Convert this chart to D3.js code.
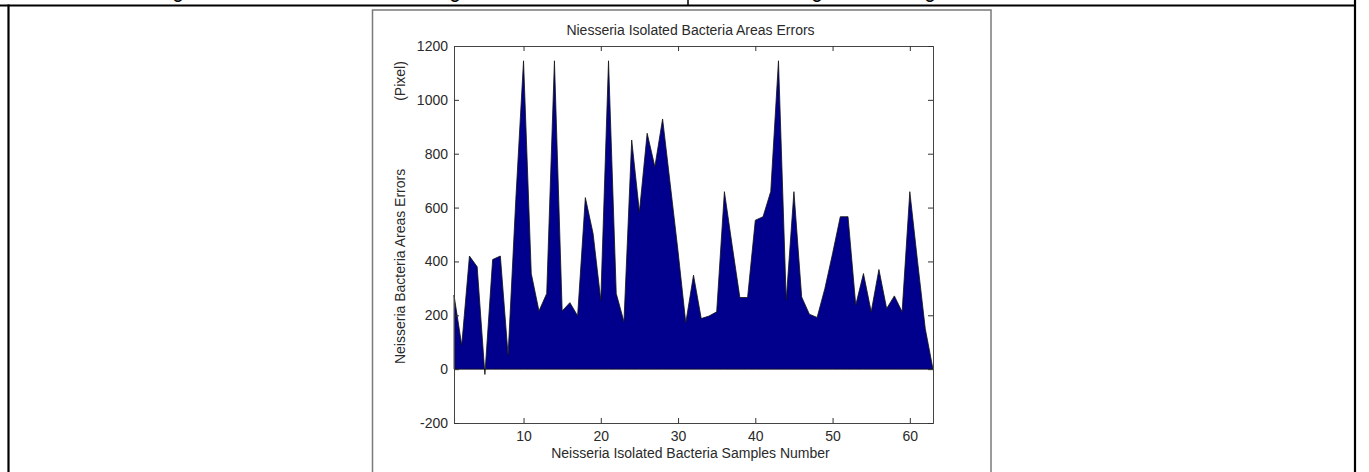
<!DOCTYPE html>
<html>
<head>
<meta charset="utf-8">
<script src="https://cdn.jsdelivr.net/npm/d3@7"></script>
<style>
    body { margin: 0; background: #fff; }
    #chart-area { width: 1369px; height: 472px; }
    .axis text { font-family: Arial, "Liberation Sans", sans-serif; font-size: 14px; fill: #2a2a2a; }
    .label { font-family: Arial, "Liberation Sans", sans-serif; font-size: 14px; fill: #2a2a2a; }
</style>
</head>
<body>
<div id="chart-area"></div>
<script>

// area errors per sample (pixel)
let errorValues = [275, 89, 420, 380, -20, 407, 420, 52, 630, 1145,
    355, 216, 281, 1145, 216, 247, 198, 637, 504, 256,
    1145, 281, 176, 851, 584, 876, 752, 929, 684, 437,
    172, 349, 188, 197, 213, 659, 460, 266, 266, 553,
    566, 660, 1145, 256, 659, 268, 204, 192, 299, 429,
    566, 566, 238, 355, 213, 370, 225, 272, 213, 659,
    400, 150, 0];

let xTicks = [10, 20, 30, 40, 50, 60];
let yTicks = [-200, 0, 200, 400, 600, 800, 1000, 1200];

let chartTitle = "Niesseria Isolated Bacteria Areas Errors";
let xLabel = "Neisseria Isolated Bacteria Samples Number";
let yLabel = "Neisseria Bacteria Areas Errors";
let yUnit = "(Pixel)";


class AreaErrorsViz {

    constructor(_parentElement, _data) {
        this.parentElement = _parentElement;
        this.data = _data;

        this.initVis();
    }

    initVis() {
        let vis = this;

        vis.totalWidth = 1369;
        vis.totalHeight = 472;

        // plot box inside the matlab figure
        vis.margin = { top: 46, left: 454 };
        vis.width = 479;
        vis.height = 377;

        vis.root = d3.select("#" + vis.parentElement).append("svg")
            .attr("width", vis.totalWidth)
            .attr("height", vis.totalHeight);

        // document table lines around the figure
        vis.root.append("line")
            .attr("x1", 0).attr("x2", 1356)
            .attr("y1", 5.5).attr("y2", 5.5)
            .attr("stroke", "#000").attr("stroke-width", 2.2);
        vis.root.append("line")
            .attr("x1", 8.5).attr("x2", 8.5)
            .attr("y1", 4.5).attr("y2", 472)
            .attr("stroke", "#000").attr("stroke-width", 2.2);
        vis.root.append("line")
            .attr("x1", 1355).attr("x2", 1355)
            .attr("y1", 0).attr("y2", 472)
            .attr("stroke", "#000").attr("stroke-width", 2.2);
        vis.root.append("line")
            .attr("x1", 688).attr("x2", 688)
            .attr("y1", 0).attr("y2", 5)
            .attr("stroke", "#000").attr("stroke-width", 1.5);

        // header row of the table is cut off, only the descenders stay visible
        [178, 455, 817, 930].forEach(x => {
            vis.root.append("text")
                .attr("x", x).attr("y", -1)
                .attr("text-anchor", "middle")
                .style("font-family", "Calibri, Carlito, 'Liberation Sans', sans-serif")
                .style("font-weight", "bold")
                .style("font-size", "18px")
                .text("g");
        });

        // figure frame
        vis.root.append("rect")
            .attr("x", 372.5).attr("y", 10)
            .attr("width", 618.5).attr("height", 470)
            .attr("fill", "none")
            .attr("stroke", "#7a7a7a").attr("stroke-width", 1.5);

        vis.svg = vis.root.append("g")
            .attr("transform", "translate(" + vis.margin.left + "," + vis.margin.top + ")");

        // Scales and axes
        vis.x = d3.scaleLinear()
            .domain([1, errorValues.length])
            .range([0, vis.width]);

        vis.y = d3.scaleLinear()
            .domain([-200, 1200])
            .range([vis.height, 0]);

        let plain = d => String(d);

        vis.xAxis = d3.axisBottom(vis.x).tickValues(xTicks).tickSize(-5).tickPadding(8).tickFormat(plain);
        vis.yAxis = d3.axisLeft(vis.y).tickValues(yTicks).tickSize(-5).tickPadding(6).tickFormat(plain);
        vis.xAxisTop = d3.axisTop(vis.x).tickValues(xTicks).tickSize(-5).tickFormat("");
        vis.yAxisRight = d3.axisRight(vis.y).tickValues(yTicks).tickSize(-5).tickFormat("");

        vis.area = d3.area()
            .x((d, i) => vis.x(i + 1))
            .y0(vis.y(0))
            .y1(d => vis.y(d));

        vis.wrangleData();
    }

    wrangleData() {
        let vis = this;

        vis.displayData = vis.data;

        vis.updateVis();
    }

    updateVis() {
        let vis = this;

        // the area patch, black edge like matlab
        vis.svg.append("path")
            .datum(vis.displayData)
            .attr("class", "area")
            .attr("d", vis.area)
            .attr("fill", "#00008c")
            .attr("stroke", "#111")
            .attr("stroke-width", 0.8)
            .attr("stroke-linejoin", "miter");

        vis.svg.append("g")
            .attr("class", "x-axis axis")
            .attr("transform", "translate(0," + vis.height + ")")
            .call(vis.xAxis);

        vis.svg.append("g")
            .attr("class", "y-axis axis")
            .call(vis.yAxis);

        vis.svg.append("g")
            .attr("class", "axis")
            .call(vis.xAxisTop);

        vis.svg.append("g")
            .attr("class", "axis")
            .attr("transform", "translate(" + vis.width + ",0)")
            .call(vis.yAxisRight);

        vis.svg.selectAll(".axis path, .axis line")
            .attr("stroke", "#333")
            .attr("stroke-width", 1);
        vis.svg.selectAll(".axis .domain").attr("stroke", "#444");

        // titles
        vis.svg.append("text")
            .attr("class", "label")
            .attr("x", vis.width / 2 - 3)
            .attr("y", -11)
            .attr("text-anchor", "middle")
            .text(chartTitle);

        vis.svg.append("text")
            .attr("class", "label")
            .attr("x", vis.width / 2 - 3)
            .attr("y", vis.height + 35)
            .attr("text-anchor", "middle")
            .text(xLabel);

        vis.svg.append("text")
            .attr("class", "label")
            .attr("transform", "translate(-49," + (vis.y(400) + 5) + ") rotate(-90)")
            .attr("text-anchor", "middle")
            .text(yLabel);

        vis.svg.append("text")
            .attr("class", "label")
            .attr("transform", "translate(-49," + (vis.y(1070) ) + ") rotate(-90)")
            .attr("text-anchor", "middle")
            .text(yUnit);
    }
}

let areaViz = new AreaErrorsViz("chart-area", errorValues);

</script>
</body>
</html>
